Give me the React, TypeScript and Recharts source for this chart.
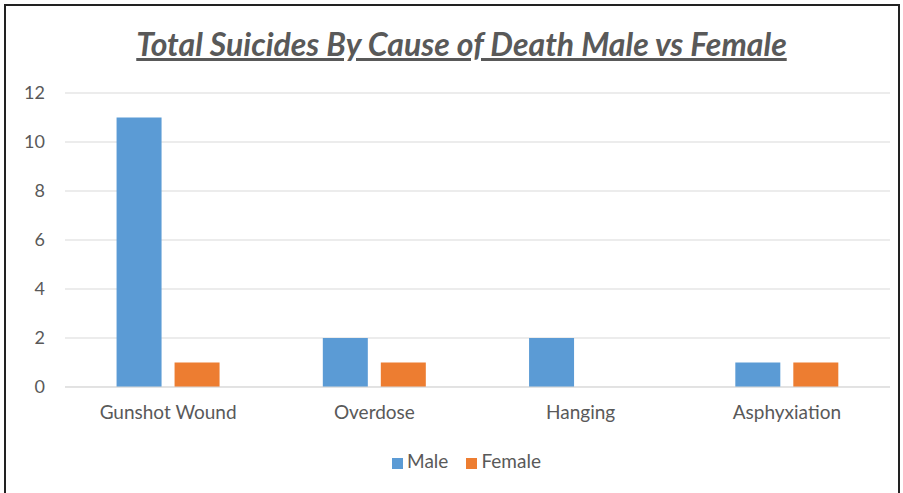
import { Bar, BarChart, CartesianGrid, Legend, XAxis, YAxis } from "recharts";

const causes = ["Gunshot Wound", "Overdose", "Hanging", "Asphyxiation"];
const male = [11, 2, 2, 1];
const female = [1, 1, 0, 1];
const yTicks = [0, 2, 4, 6, 8, 10, 12];
const seriesOrder = ["Male", "Female"];

const data = causes.map((cause, i) => ({ cause, Male: male[i], Female: female[i] }));

const font = "Lato, 'Open Sans', sans-serif";
const textColor = "#595959";

export default function App() {
  return (
    <div style={{ position: "absolute", top: 0, left: 0, width: 903, height: 493, overflow: "hidden", background: "#fff", fontFamily: font }}>
      <div
        style={{
          position: "absolute",
          left: 4,
          top: 4,
          width: 892,
          height: 500,
          border: "2px solid #222"
        }}
      />
      <div
        style={{
          position: "absolute",
          top: 24,
          left: 10,
          width: 903,
          textAlign: "center",
          fontSize: 32,
          fontWeight: 700,
          fontStyle: "italic",
          textDecoration: "underline",
          color: textColor
        }}
      >
        Total Suicides By Cause of Death Male vs Female
      </div>
      <BarChart
        width={903}
        height={493}
        data={data}
        margin={{ top: 93, right: 13, left: 0, bottom: 43 }}
        barCategoryGap="25%"
        barGap={13}
      >
        <CartesianGrid stroke="#d9d9d9" vertical={false} />
        <XAxis
          dataKey="cause"
          tick={{ fill: textColor, fontSize: 19, fontFamily: font }}
          tickLine={false}
          axisLine={{ stroke: "#d9d9d9" }}
          tickMargin={13}
          height={40}
        />
        <YAxis
          width={65}
          domain={[0, 12]}
          ticks={yTicks}
          tick={{ fill: textColor, fontSize: 18, fontFamily: font }}
          tickLine={false}
          axisLine={false}
          tickMargin={14}
        />
        <Legend
          verticalAlign="bottom"
          iconType="square"
          iconSize={11}
          wrapperStyle={{ top: 449, left: 20, width: 903 }}
          itemSorter={(item: any) => seriesOrder.indexOf(String(item.value))}
          formatter={(v) => (
            <span style={{ color: textColor, fontSize: 19, fontFamily: font, paddingRight: v === "Male" ? 8 : 0 }}>{v}</span>
          )}
        />
        <Bar dataKey="Male" fill="#5b9bd5" isAnimationActive={false} />
        <Bar dataKey="Female" fill="#ed7d31" isAnimationActive={false} />
      </BarChart>
    </div>
  );
}
